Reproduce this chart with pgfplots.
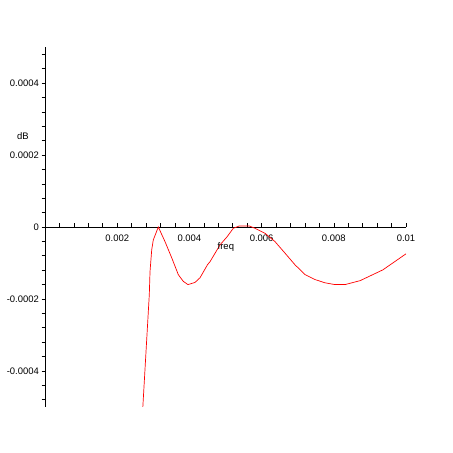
\documentclass[border=0pt]{standalone}
\usepackage{pgfplots}
\pgfplotsset{compat=1.18}
\usepackage{fontspec}
\setmainfont{Liberation Sans}
\begin{document}
\fontsize{9.5}{11}\selectfont
\begin{tikzpicture}
\path (0,0) rectangle (453bp,453bp);
\begin{axis}[
    at={(45bp,46bp)}, anchor=south west,
    scale only axis,
    width=361bp, height=360bp,
    axis lines=middle,
    axis line style={-, line width=0.6bp},
    xmin=0, xmax=0.01,
    ymin=-0.0005, ymax=0.0005,
    xtick={0.002,0.004,0.006,0.008,0.01},
    xticklabels={0.002,0.004,0.006,0.008,0.01},
    ytick={-0.0004,-0.0002,0,0.0002,0.0004},
    yticklabels={-0.0004,-0.0002,\raisebox{-4bp}{0},0.0002,0.0004},
    hide obscured y ticks=false,
    minor xtick={0.0004,0.0008,0.0012,0.0016,0.0024,0.0028,0.0032,0.0036,0.0044,0.0048,0.0052,0.0056,0.0064,0.0068,0.0072,0.0076,0.0084,0.0088,0.0092,0.0096},
    minor ytick={-0.00048,-0.00044,-0.00036,-0.00032,-0.00028,-0.00024,-0.00016,-0.00012,-0.00008,-0.00004,0.00004,0.00008,0.00012,0.00016,0.00024,0.00028,0.00032,0.00036,0.00044,0.00048},
    tick align=center,
    major tick length=3.5bp, minor tick length=3.5bp,
    tick style={black, line width=0.6bp},
    xtick style={yshift=1.75bp},
    ytick style={xshift=-1.75bp},
    scaled ticks=false,
    /pgf/number format/assume math mode=true,
    tick label style={font=\fontsize{9.5}{11}\selectfont},
    xticklabel style={yshift=-3bp},
    yticklabel style={xshift=-1bp},
    xlabel={freq}, ylabel={dB},
    xlabel style={at={(rel axis cs:0.501,0.444)}, anchor=center},
    ylabel style={at={(rel axis cs:-0.061,0.753)}, anchor=center, rotate=0},
    label style={font=\fontsize{9.5}{11}\selectfont},
    clip=true,
]
\addplot[red, line width=0.7bp, sharp plot] coordinates {
    (0.00271,-0.0005) (0.002889,-0.000188) (0.002909,-0.000124)
    (0.002956,-0.0000634) (0.0030,-0.0000359) (0.003139,0.0000)
    (0.003324,-0.0000406) (0.00351,-0.0000855) (0.003693,-0.0001324)
    (0.003831,-0.000151) (0.00396,-0.00016) (0.004155,-0.000154)
    (0.004294,-0.000141) (0.0045,-0.000105) (0.00457,-0.0000966)
    (0.004848,-0.0000497) (0.00504,-0.0000276) (0.005216,-0.0000036)
    (0.00538,0.0000028) (0.00566,0.0000028) (0.005817,-0.0000036)
    (0.006094,-0.0000174) (0.006371,-0.0000406) (0.006648,-0.0000726)
    (0.006925,-0.000105) (0.007202,-0.000132) (0.00748,-0.000146)
    (0.007756,-0.000155) (0.008033,-0.00016) (0.00831,-0.00016)
    (0.00873,-0.000149) (0.00936,-0.000119) (0.0100,-0.0000745)
};
\end{axis}
\end{tikzpicture}
\end{document}
